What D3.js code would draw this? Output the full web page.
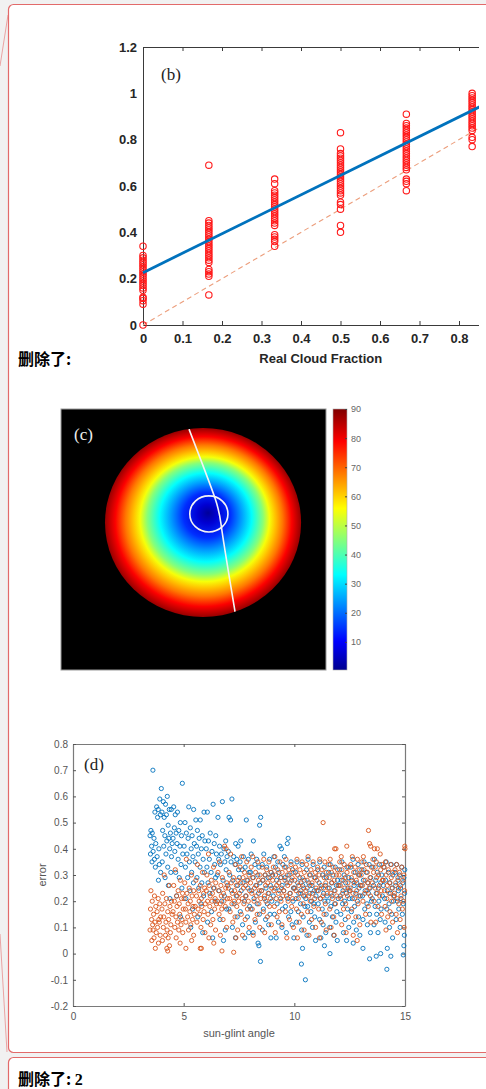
<!DOCTYPE html>
<html>
<head>
<meta charset="utf-8">
<script src="https://cdn.jsdelivr.net/npm/d3@7/dist/d3.min.js"></script>
<style>
  html, body { margin: 0; padding: 0; background: #f1f1f1; }
  svg { display: block; }
  .sans { font-family: "Liberation Sans", Arial, sans-serif; }
  .serif { font-family: "Liberation Serif", "Times New Roman", serif; }
  .cjk { font-family: "Noto Sans CJK SC", sans-serif; font-weight: bold; }
</style>
</head>
<body>
<div class="container"></div>
<script>
// ---------- panel (b): estimated vs real cloud fraction ----------
const cloudFraction = [0, 0.1667, 0.3333, 0.5, 0.6667, 0.8333];
const estCol0 = [0, .09, .105, .115, .12, .15, .16, .17, .18, .19, .20, .21, .22, .23, .24, .25, .26, .27, .28, .29, .30, .34];
const estCol1 = [.13, .21, .22, .23, .24, .27, .28, .29, .30, .31, .32, .33, .34, .35, .36, .37, .38, .39, .40, .41, .42, .43, .44, .45, .69];
const estCol2 = [.34, .36, .37, .38, .39, .43, .44, .45, .46, .47, .48, .49, .50, .51, .52, .53, .54, .55, .56, .57, .58, .61, .63];
const estCol3 = [.40, .43, .50, .52, .53, .56, .57, .58, .59, .60, .61, .62, .63, .64, .65, .66, .67, .68, .69, .70, .71, .72, .73, .74, .76, .83];
const estCol4 = [.58, .61, .62, .63, .67, .68, .69, .70, .71, .72, .73, .74, .75, .76, .77, .78, .79, .80, .81, .82, .83, .84, .85, .86, .87, .91];
const estCol5 = [.77, .80, .81, .84, .85, .86, .87, .88, .89, .90, .91, .92, .93, .94, .95, .96, .97, .98, .99, 1.0];
const estimated = [estCol0, estCol1, estCol2, estCol3, estCol4, estCol5];
const fitLine = [[0, 0.226], [0.9, 0.982]];
const oneToOne = [[0, 0], [0.9, 0.9]];
const xTicksB = [0, 0.1, 0.2, 0.3, 0.4, 0.5, 0.6, 0.7, 0.8];
const yTicksB = [0, 0.2, 0.4, 0.6, 0.8, 1, 1.2];

// ---------- panel (c): angle map (image units 0-100) ----------
const ringOffsets = [0, 0.1, 0.24, 0.36, 0.47, 0.53, 0.59, 0.66, 0.72, 0.8, 0.9, 1];
const ringValues  = [1, 6, 14, 24, 33, 39, 45, 55, 61, 68, 79, 88];
const jetStops  = [0, 0.11, 0.365, 0.62, 0.875, 1];
const jetColors = ["#00008f", "#0000ff", "#00ffff", "#ffff00", "#ff0000", "#800000"];
const cbTicks = [10, 20, 30, 40, 50, 60, 70, 80, 90];
const diskCenter = [53.6, 43.5];
const diskRadius = [37.0, 36.2];
const diskFocus  = [55.5, 39.8];
const ringCenter = [55.8, 40.2];
const ringRadius = [7.2, 6.9];
const trackLine = [[48.3, 7.7], [58.1, 34.1], [60.8, 47.1], [65.7, 77.8]];

// ---------- panel (d): error vs sun-glint angle ----------
const errBlue = [
[3.61,.70],[3.99,.63],[3.92,.59],[3.78,.56],[3.85,.55],[3.70,.54],[3.95,.53],[3.82,.52],[3.52,.47],[3.58,.46],[3.48,.45],[3.66,.44],[3.74,.42],[3.55,.41],[3.88,.40],[3.62,.39],[3.50,.38],[3.80,.37],[3.68,.36],[3.57,.35],[3.90,.34],[3.72,.33],[3.96,.31],[3.86,.28],
[4.26,.60],[4.08,.58],[4.18,.57],[4.35,.55],[4.02,.54],[4.22,.53],[4.44,.55],[4.12,.52],[4.30,.49],[4.05,.47],[4.40,.46],[4.15,.45],[4.33,.44],[4.24,.43],[4.48,.42],[4.10,.41],[4.37,.40],[4.20,.38],[4.45,.37],[4.03,.35],[4.28,.33],[4.42,.31],[4.16,.29],[4.31,.26],[4.38,.21],
[4.94,.65],[4.55,.56],[4.72,.54],[4.62,.53],[4.85,.50],[4.58,.48],[4.78,.47],[4.66,.46],[4.90,.45],[4.52,.44],[4.70,.42],[4.83,.41],[4.60,.39],[4.96,.38],[4.75,.36],[4.88,.34],[4.64,.31],[4.80,.29],[4.92,.25],[4.68,.22],[4.86,.14],
[5.23,.56],[5.45,.55],[5.06,.50],[5.30,.48],[5.12,.46],[5.38,.45],[5.20,.44],[5.48,.42],[5.02,.41],[5.34,.40],[5.15,.38],[5.42,.37],[5.26,.35],[5.08,.33],[5.36,.31],[5.18,.29],[5.44,.27],[5.28,.24],[5.10,.21],[5.40,.17],[5.32,.10],
[5.55,.51],[5.75,.51],[5.92,.54],[5.62,.47],[5.84,.45],[5.70,.44],[5.96,.43],[5.58,.41],[5.80,.40],[5.66,.38],[5.88,.36],[5.52,.35],[5.74,.33],[5.94,.31],[5.60,.29],[5.82,.27],[5.68,.25],[5.90,.22],[5.78,.19],[5.64,.14],[5.86,.08],
[6.33,.57],[6.07,.54],[6.20,.46],[6.45,.45],[6.12,.43],[6.38,.42],[6.02,.40],[6.28,.39],[6.48,.38],[6.16,.36],[6.40,.34],[6.05,.33],[6.24,.31],[6.44,.29],[6.10,.27],[6.35,.25],[6.18,.23],[6.42,.20],[6.26,.16],[6.08,.12],[6.31,.06],
[6.75,.58],[6.55,.52],[6.90,.43],[6.62,.41],[6.82,.40],[6.70,.38],[6.96,.37],[6.58,.36],[6.86,.35],[6.66,.34],[6.92,.32],[6.52,.30],[6.78,.28],[6.98,.26],[6.60,.24],[6.84,.22],[6.72,.20],[6.94,.17],[6.64,.13],[6.88,.09],[6.80,.05],
[7.18,.59],[7.05,.52],[7.12,.51],[7.35,.42],[7.46,.41],[7.02,.39],[7.26,.37],[7.40,.36],[7.14,.35],[7.32,.34],[7.48,.32],[7.08,.30],[7.22,.28],[7.44,.26],[7.16,.24],[7.38,.22],[7.28,.19],[7.04,.17],[7.42,.14],[7.20,.10],[7.34,.06],
[7.83,.51],[7.58,.43],[7.70,.37],[7.92,.36],[7.55,.35],[7.78,.33],[7.64,.32],[7.96,.31],[7.52,.29],[7.86,.28],[7.68,.27],[7.90,.25],[7.60,.24],[7.80,.22],[7.74,.20],[7.98,.18],[7.56,.16],[7.88,.14],[7.66,.11],[7.94,.08],[7.76,.06],
[8.48,.52],[8.43,.49],[8.15,.43],[8.05,.38],[8.30,.36],[8.22,.34],[8.40,.33],[8.02,.31],[8.35,.30],[8.12,.29],[8.45,.27],[8.26,.26],[8.08,.24],[8.38,.23],[8.18,.21],[8.32,.19],[8.04,.17],[8.42,.15],[8.24,.12],[8.14,.08],[8.40,.03],[8.47,-.03],[8.36,.04],
[8.62,.38],[8.88,.36],[8.55,.34],[8.75,.33],[8.95,.31],[8.68,.30],[8.82,.29],[8.58,.28],[8.92,.26],[8.72,.25],[8.52,.24],[8.85,.23],[8.65,.21],[8.98,.20],[8.78,.19],[8.60,.17],[8.90,.15],[8.70,.13],[8.84,.11],[8.56,.09],[8.94,.06],
[9.35,.41],[9.42,.40],[9.08,.37],[9.25,.35],[9.48,.34],[9.15,.33],[9.30,.31],[9.02,.30],[9.40,.29],[9.20,.28],[9.45,.26],[9.12,.25],[9.32,.24],[9.05,.22],[9.38,.21],[9.22,.19],[9.46,.17],[9.10,.15],[9.28,.12],[9.44,.10],[9.18,.06],
[9.72,.44],[9.68,.42],[9.55,.37],[9.85,.35],[9.62,.33],[9.92,.32],[9.76,.30],[9.58,.29],[9.88,.28],[9.66,.27],[9.96,.25],[9.52,.24],[9.80,.23],[9.70,.21],[9.94,.20],[9.60,.18],[9.84,.16],[9.74,.14],[9.90,.11],[9.64,.08],[9.98,.06],
[10.12,.35],[10.35,.34],[10.05,.31],[10.25,.29],[10.45,.28],[10.15,.27],[10.38,.26],[10.02,.25],[10.30,.24],[10.20,.23],[10.42,.22],[10.08,.21],[10.28,.19],[10.48,.18],[10.18,.16],[10.40,.14],[10.10,.12],[10.33,.09],[10.37,.02],[10.32,-.04],[10.50,-.10],
[10.62,.36],[10.85,.34],[10.55,.32],[10.72,.30],[10.95,.29],[10.65,.27],[10.80,.26],[10.58,.25],[10.90,.24],[10.70,.23],[10.98,.22],[10.52,.21],[10.78,.20],[10.88,.19],[10.60,.18],[10.75,.16],[10.92,.14],[10.68,.12],[10.82,.10],[10.57,.07],[10.96,.05],
[11.15,.35],[11.35,.33],[11.05,.32],[11.28,.30],[11.45,.29],[11.12,.27],[11.40,.26],[11.22,.25],[11.02,.24],[11.32,.23],[11.48,.22],[11.18,.21],[11.38,.20],[11.08,.19],[11.26,.17],[11.44,.15],[11.14,.13],[11.30,.11],[11.42,.08],[11.20,.06],[11.36,.03],
[11.62,.34],[11.85,.33],[11.55,.31],[11.75,.30],[11.95,.28],[11.68,.27],[11.90,.26],[11.58,.25],[11.80,.24],[11.70,.22],[11.98,.21],[11.52,.20],[11.82,.19],[11.65,.18],[11.92,.16],[11.72,.14],[11.88,.12],[11.60,.10],[11.78,.07],[11.61,.00],[11.94,.05],
[12.15,.35],[12.38,.33],[12.05,.32],[12.25,.30],[12.45,.29],[12.12,.28],[12.32,.27],[12.02,.26],[12.42,.25],[12.20,.24],[12.35,.23],[12.08,.22],[12.48,.21],[12.28,.20],[12.18,.19],[12.40,.17],[12.10,.15],[12.30,.13],[12.46,.10],[12.22,.08],[12.36,.05],
[12.65,.36],[12.88,.34],[12.55,.33],[12.75,.31],[12.95,.30],[12.60,.28],[12.82,.27],[12.70,.26],[12.92,.25],[12.52,.24],[12.78,.23],[12.98,.22],[12.62,.21],[12.85,.20],[12.72,.18],[12.58,.16],[12.90,.14],[12.68,.12],[12.80,.09],[12.96,.07],[12.66,.04],
[13.15,.35],[13.38,.34],[13.05,.32],[13.25,.31],[13.45,.29],[13.12,.28],[13.32,.27],[13.02,.26],[13.42,.25],[13.20,.24],[13.35,.23],[13.08,.22],[13.48,.20],[13.28,.19],[13.18,.17],[13.40,.15],[13.10,.13],[13.30,.11],[13.44,.08],[13.10,.02],[13.40,-.02],
[13.62,.36],[13.85,.34],[13.55,.33],[13.75,.31],[13.95,.30],[13.68,.28],[13.90,.27],[13.58,.26],[13.80,.25],[13.70,.23],[13.98,.22],[13.52,.21],[13.82,.20],[13.65,.18],[13.92,.17],[13.72,.15],[13.88,.13],[13.60,.11],[13.78,.08],[13.70,-.01],[13.90,.00],
[14.15,.35],[14.38,.34],[14.05,.33],[14.25,.31],[14.45,.30],[14.12,.28],[14.32,.27],[14.02,.26],[14.42,.25],[14.20,.24],[14.35,.23],[14.08,.21],[14.48,.20],[14.28,.19],[14.18,.17],[14.40,.15],[14.10,.12],[14.30,.10],[14.44,.06],[14.20,.02],[14.36,-.01],[14.18,-.06],
[14.62,.34],[14.85,.33],[14.99,.32],[14.55,.31],[14.75,.30],[14.95,.29],[14.68,.28],[14.90,.27],[14.58,.26],[14.80,.25],[14.70,.24],[14.98,.23],[14.52,.22],[14.82,.21],[14.65,.20],[14.92,.19],[14.72,.17],[14.88,.15],[14.60,.13],[14.78,.10],[14.97,.07],[14.95,.03],[14.92,-.005]
];
const errOrange = [
[3.52,.24],[3.68,.22],[3.85,.21],[3.58,.20],[3.92,.19],[3.74,.18],[3.50,.17],[3.80,.16],[3.64,.15],[3.96,.14],[3.55,.13],[3.88,.13],[3.70,.12],[3.60,.11],[3.82,.10],[3.48,.09],[3.76,.08],[3.94,.07],[3.66,.06],[3.56,.05],[3.86,.04],[3.72,.02],[3.90,.12],[3.62,.09],
[4.12,.30],[4.35,.26],[4.05,.23],[4.22,.21],[4.45,.20],[4.15,.19],[4.38,.18],[4.02,.17],[4.28,.16],[4.48,.15],[4.10,.14],[4.32,.13],[4.20,.12],[4.42,.11],[4.08,.10],[4.25,.09],[4.40,.08],[4.18,.07],[4.30,.06],[4.04,.05],[4.36,.03],[4.24,.02],[4.28,.01],
[4.62,.32],[4.85,.28],[4.55,.26],[4.75,.24],[4.95,.23],[4.68,.22],[4.90,.21],[4.58,.20],[4.80,.19],[4.70,.18],[4.98,.17],[4.52,.16],[4.82,.15],[4.65,.14],[4.92,.13],[4.72,.12],[4.88,.11],[4.60,.10],[4.78,.09],[4.96,.08],[4.66,.06],[4.84,.04],
[5.12,.36],[5.35,.30],[5.05,.27],[5.25,.25],[5.45,.24],[5.15,.23],[5.38,.22],[5.02,.21],[5.30,.20],[5.20,.19],[5.42,.18],[5.08,.17],[5.28,.16],[5.48,.15],[5.18,.14],[5.40,.13],[5.10,.12],[5.32,.11],[5.22,.09],[5.45,.07],[5.10,.02],[5.36,.05],
[5.62,.34],[5.85,.31],[5.55,.28],[5.75,.26],[5.95,.25],[5.68,.24],[5.90,.23],[5.58,.22],[5.80,.21],[5.70,.20],[5.98,.19],[5.52,.18],[5.82,.18],[5.65,.17],[5.92,.16],[5.72,.15],[5.88,.13],[5.60,.12],[5.78,.10],[5.96,.08],[5.75,.02],[5.80,.02],
[6.12,.38],[6.35,.33],[6.05,.30],[6.25,.28],[6.45,.27],[6.15,.26],[6.38,.25],[6.02,.24],[6.30,.23],[6.20,.22],[6.42,.21],[6.08,.20],[6.28,.20],[6.48,.19],[6.18,.18],[6.40,.17],[6.10,.15],[6.32,.13],[6.22,.11],[6.44,.09],[6.14,.06],[6.36,.04],
[6.85,.41],[6.92,.40],[6.62,.35],[6.55,.31],[6.75,.29],[6.95,.27],[6.68,.26],[6.90,.25],[6.58,.24],[6.80,.23],[6.70,.22],[6.98,.21],[6.52,.20],[6.82,.20],[6.65,.19],[6.88,.18],[6.72,.17],[6.60,.15],[6.78,.13],[6.94,.10],[6.73,.01],[6.66,.07],
[7.12,.38],[7.35,.34],[7.05,.31],[7.25,.29],[7.45,.28],[7.15,.27],[7.38,.26],[7.02,.25],[7.30,.24],[7.20,.23],[7.42,.22],[7.08,.21],[7.28,.20],[7.48,.20],[7.18,.19],[7.40,.18],[7.10,.16],[7.32,.14],[7.22,.12],[7.44,.09],[7.26,.005],[7.36,.06],
[7.62,.37],[7.85,.35],[7.55,.33],[7.75,.31],[7.95,.30],[7.68,.29],[7.90,.28],[7.58,.27],[7.80,.26],[7.70,.25],[7.98,.24],[7.52,.23],[7.82,.22],[7.65,.21],[7.92,.20],[7.72,.19],[7.88,.17],[7.60,.15],[7.78,.13],[7.96,.10],[7.66,.07],
[8.12,.37],[8.35,.35],[8.05,.33],[8.25,.31],[8.45,.30],[8.15,.29],[8.38,.28],[8.02,.27],[8.30,.26],[8.20,.25],[8.42,.24],[8.08,.23],[8.28,.22],[8.48,.21],[8.18,.20],[8.40,.19],[8.10,.17],[8.32,.15],[8.22,.13],[8.44,.10],[8.14,.07],
[8.62,.36],[8.85,.35],[8.55,.33],[8.75,.32],[8.95,.31],[8.68,.30],[8.90,.29],[8.58,.28],[8.80,.27],[8.70,.26],[8.98,.25],[8.52,.24],[8.82,.23],[8.65,.22],[8.92,.21],[8.72,.20],[8.88,.18],[8.60,.16],[8.78,.14],[8.96,.11],[8.66,.08],
[9.12,.37],[9.35,.35],[9.05,.33],[9.25,.32],[9.45,.31],[9.15,.30],[9.38,.29],[9.02,.28],[9.30,.27],[9.20,.26],[9.42,.25],[9.08,.24],[9.28,.23],[9.48,.22],[9.18,.21],[9.40,.20],[9.10,.18],[9.32,.16],[9.22,.14],[9.44,.11],[9.14,.08],
[9.62,.36],[9.85,.34],[9.55,.33],[9.75,.32],[9.95,.31],[9.68,.30],[9.90,.29],[9.58,.28],[9.80,.27],[9.70,.26],[9.98,.25],[9.52,.24],[9.82,.23],[9.65,.22],[9.92,.21],[9.72,.20],[9.88,.18],[9.60,.16],[9.78,.13],[9.96,.10],[9.66,.06],
[10.12,.36],[10.35,.35],[10.05,.33],[10.25,.32],[10.45,.31],[10.15,.30],[10.38,.29],[10.02,.28],[10.30,.27],[10.20,.26],[10.42,.25],[10.08,.24],[10.28,.23],[10.48,.22],[10.18,.21],[10.40,.19],[10.10,.17],[10.32,.15],[10.22,.12],[10.44,.09],[10.14,.06],
[10.62,.37],[10.85,.35],[10.55,.34],[10.75,.32],[10.95,.31],[10.68,.30],[10.90,.29],[10.58,.28],[10.80,.27],[10.70,.26],[10.98,.25],[10.52,.24],[10.82,.23],[10.65,.22],[10.92,.21],[10.72,.20],[10.88,.18],[10.60,.16],[10.78,.13],[10.96,.10],[10.66,.07],
[11.30,.50],[11.15,.36],[11.38,.35],[11.05,.33],[11.25,.32],[11.45,.31],[11.12,.30],[11.35,.29],[11.02,.28],[11.42,.27],[11.20,.26],[11.32,.25],[11.08,.24],[11.48,.23],[11.28,.22],[11.18,.21],[11.40,.19],[11.10,.17],[11.34,.15],[11.22,.12],[11.44,.09],[11.14,.06],
[11.82,.40],[11.88,.40],[11.62,.36],[11.55,.34],[11.75,.33],[11.95,.32],[11.68,.31],[11.90,.30],[11.58,.29],[11.80,.28],[11.70,.27],[11.98,.26],[11.52,.25],[11.84,.24],[11.65,.23],[11.92,.22],[11.72,.21],[11.86,.19],[11.60,.17],[11.78,.14],[11.80,.07],[11.66,.10],
[12.37,.41],[12.12,.37],[12.05,.35],[12.25,.34],[12.45,.33],[12.15,.32],[12.38,.31],[12.02,.30],[12.30,.29],[12.20,.28],[12.42,.27],[12.08,.26],[12.28,.25],[12.48,.24],[12.18,.23],[12.40,.22],[12.10,.21],[12.32,.19],[12.22,.17],[12.44,.14],[12.14,.11],[12.34,.08],
[12.62,.37],[12.85,.36],[12.55,.34],[12.75,.33],[12.95,.32],[12.68,.31],[12.90,.30],[12.58,.29],[12.80,.28],[12.70,.27],[12.98,.26],[12.52,.25],[12.82,.24],[12.65,.23],[12.92,.22],[12.72,.21],[12.88,.19],[12.60,.17],[12.78,.14],[12.96,.11],[12.66,.07],[12.84,.05],
[13.35,.47],[13.40,.42],[13.45,.41],[13.12,.37],[13.05,.35],[13.25,.34],[13.48,.33],[13.15,.32],[13.30,.31],[13.02,.30],[13.42,.29],[13.20,.28],[13.32,.27],[13.08,.26],[13.38,.25],[13.28,.24],[13.18,.23],[13.44,.22],[13.10,.20],[13.34,.18],[13.22,.15],[13.46,.12],
[13.62,.40],[13.75,.40],[13.88,.38],[13.55,.36],[13.70,.35],[13.95,.34],[13.66,.33],[13.90,.32],[13.58,.31],[13.80,.30],[13.72,.29],[13.98,.28],[13.52,.27],[13.84,.26],[13.65,.25],[13.92,.24],[13.74,.23],[13.86,.22],[13.60,.20],[13.78,.18],[13.94,.15],[13.68,.12],
[14.12,.35],[14.35,.34],[14.05,.33],[14.25,.32],[14.45,.31],[14.15,.30],[14.38,.29],[14.02,.28],[14.30,.27],[14.20,.26],[14.42,.25],[14.08,.24],[14.28,.23],[14.48,.22],[14.18,.21],[14.40,.20],[14.10,.18],[14.32,.16],[14.22,.14],[14.44,.12],[14.14,.09],
[14.99,.41],[15.00,.40],[14.62,.34],[14.85,.33],[14.55,.32],[14.75,.31],[14.95,.30],[14.68,.29],[14.90,.28],[14.58,.27],[14.80,.26],[14.70,.25],[14.98,.24],[14.52,.23],[14.82,.22],[14.65,.21],[14.92,.20],[14.72,.19],[14.88,.17],[14.60,.15],[14.78,.13],[14.96,.10],[14.66,.08]
];
const xTicksD = [0, 5, 10, 15];
const yTicksD = [-0.2, -0.1, 0, 0.1, 0.2, 0.3, 0.4, 0.5, 0.6, 0.7, 0.8];

// ---------------------------------------------------------------
const W = 486, H = 1089;
const svg = d3.select(".container")
              .append("svg")
                .attr("width", W)
                .attr("height", H);
const defs = svg.append("defs");

// comment balloons (page chrome)
svg.append("path")
   .attr("d", "M8,15 L0,66 M0,934 L7,1052")
   .attr("stroke", "#eaa3a3").attr("fill", "none").attr("stroke-width", 1);
svg.append("rect")
   .attr("x", 8.5).attr("y", 4.5).attr("width", 500).attr("height", 1048)
   .attr("rx", 5).attr("fill", "#fff").attr("stroke", "#e26a6a").attr("stroke-width", 1.2);
svg.append("rect")
   .attr("x", 8.5).attr("y", 1057.5).attr("width", 500).attr("height", 60)
   .attr("rx", 5).attr("fill", "#fff").attr("stroke", "#e26a6a").attr("stroke-width", 1.2);

svg.append("text").attr("class", "cjk")
   .attr("x", 18).attr("y", 365).attr("font-size", 16).text("删除了:");
const del2 = svg.append("text").attr("class", "cjk")
   .attr("x", 18).attr("y", 1085).attr("font-size", 16);
del2.append("tspan").text("删除了: ");
del2.append("tspan").attr("font-family", "Liberation Serif, serif").attr("font-weight", "bold").text("2");

// ===================== panel (b) =====================
const mb = {left: 143, top: 47};
const wb = 355.5, hb = 278;
// the source picture is cropped at x = 479
defs.append("clipPath").attr("id", "clipB")
    .append("rect").attr("x", -mb.left).attr("y", -mb.top).attr("width", 479).attr("height", 400);
const gb = svg.append("g")
              .attr("transform", "translate(" + mb.left + "," + mb.top + ")")
              .attr("clip-path", "url(#clipB)");

const xB = d3.scaleLinear().domain([0, 0.9]).range([0, wb]);
const yB = d3.scaleLinear().domain([0, 1.2]).range([hb, 0]);
const fmt = d => d3.format("~g")(d).replace("\u2212", "-");

gb.append("g").attr("transform", "translate(0," + hb + ")")
  .call(d3.axisBottom(xB).tickValues(xTicksB).tickSizeInner(-4).tickSizeOuter(0).tickPadding(9).tickFormat(fmt));
gb.append("g")
  .call(d3.axisTop(xB).tickValues(xTicksB).tickSizeInner(-4).tickSizeOuter(0).tickFormat(""));
gb.append("g")
  .call(d3.axisLeft(yB).tickValues(yTicksB).tickSizeInner(0).tickSizeOuter(0).tickPadding(6).tickFormat(fmt));
gb.selectAll(".domain, .tick line").attr("stroke", "#3a3a3a");
gb.selectAll(".tick text").attr("font-family", "Liberation Sans, Arial, sans-serif")
  .attr("font-weight", "bold").attr("font-size", 13).attr("fill", "#262626");

gb.append("text").attr("class", "sans")
  .attr("x", xB(0.45)).attr("y", hb + 38)
  .attr("text-anchor", "middle").attr("font-weight", "bold").attr("font-size", 13).attr("fill", "#262626")
  .text("Real Cloud Fraction");
gb.append("text").attr("class", "serif")
  .attr("x", 18).attr("y", 33).attr("font-size", 17).attr("fill", "#222").text("(b)");

const line = d3.line().x(d => xB(d[0])).y(d => yB(d[1]));
gb.append("path").datum(oneToOne).attr("d", line)
  .attr("fill", "none").attr("stroke", "#ec9e7c").attr("stroke-width", 1.1).attr("stroke-dasharray", "5,3.5");

const cfPoints = cloudFraction.flatMap((cf, i) => estimated[i].map(v => ({x: cf, y: v})));
gb.selectAll(".cf")
  .data(cfPoints)
  .enter()
  .append("circle")
    .classed("cf", true)
    .attr("cx", d => xB(d.x))
    .attr("cy", d => yB(d.y))
    .attr("r", 3.2)
    .attr("fill", "none")
    .attr("stroke", "#ff1a1a")
    .attr("stroke-width", 1.1);

gb.append("path").datum(fitLine).attr("d", line)
  .attr("fill", "none").attr("stroke", "#0072BD").attr("stroke-width", 2.8);

// ===================== panel (c) =====================
const xC = d3.scaleLinear().domain([0, 100]).range([61, 326]);
const yC = d3.scaleLinear().domain([0, 100]).range([409, 670]);
const jet = d3.scaleLinear().domain(jetStops.map(t => t * 90)).range(jetColors).clamp(true);

const gc = svg.append("g");
gc.append("rect")
  .attr("x", xC(0)).attr("y", yC(0)).attr("width", xC(100) - xC(0)).attr("height", yC(100) - yC(0))
  .attr("fill", "#000").attr("stroke", "#9a9a9a").attr("stroke-width", 1);

const rg = defs.append("radialGradient").attr("id", "diskGrad")
  .attr("cx", 0.5).attr("cy", 0.5).attr("r", 0.5)
  .attr("fx", 0.5 + (diskFocus[0] - diskCenter[0]) / (2 * diskRadius[0]))
  .attr("fy", 0.5 + (diskFocus[1] - diskCenter[1]) / (2 * diskRadius[1]));
rg.selectAll("stop")
  .data(ringOffsets)
  .enter().append("stop")
    .attr("offset", d => d)
    .attr("stop-color", (d, i) => jet(ringValues[i]));

defs.append("clipPath").attr("id", "clipDisk")
  .append("ellipse")
    .attr("cx", xC(diskCenter[0])).attr("cy", yC(diskCenter[1]))
    .attr("rx", xC(diskRadius[0]) - xC(0)).attr("ry", yC(diskRadius[1]) - yC(0));

gc.append("ellipse")
  .attr("cx", xC(diskCenter[0])).attr("cy", yC(diskCenter[1]))
  .attr("rx", xC(diskRadius[0]) - xC(0)).attr("ry", yC(diskRadius[1]) - yC(0))
  .attr("fill", "url(#diskGrad)");

gc.append("path").datum(trackLine)
  .attr("clip-path", "url(#clipDisk)")
  .attr("d", d3.line().x(d => xC(d[0])).y(d => yC(d[1])).curve(d3.curveNatural))
  .attr("fill", "none").attr("stroke", "#f4f4f4").attr("stroke-width", 1.6);

gc.append("ellipse")
  .attr("cx", xC(ringCenter[0])).attr("cy", yC(ringCenter[1]))
  .attr("rx", xC(ringRadius[0]) - xC(0)).attr("ry", yC(ringRadius[1]) - yC(0))
  .attr("fill", "none").attr("stroke", "#f4f4f4").attr("stroke-width", 1.6);

gc.append("text").attr("class", "serif")
  .attr("x", 74).attr("y", 440).attr("font-size", 17).attr("fill", "#eee").text("(c)");

// colour bar
const cb = d3.scaleLinear().domain([0, 90]).range([671, 409]);
const lg = defs.append("linearGradient").attr("id", "jetGrad")
  .attr("x1", 0).attr("y1", 1).attr("x2", 0).attr("y2", 0);
lg.selectAll("stop")
  .data(jetStops)
  .enter().append("stop")
    .attr("offset", d => d)
    .attr("stop-color", (d, i) => jetColors[i]);
gc.append("rect")
  .attr("x", 333).attr("y", cb(90)).attr("width", 14).attr("height", 670 - cb(90))
  .attr("fill", "url(#jetGrad)").attr("stroke", "#aaa").attr("stroke-width", 0.6);
const gcb = gc.append("g").attr("transform", "translate(347,0)")
  .call(d3.axisRight(cb).tickValues(cbTicks).tickSizeInner(-2).tickSizeOuter(0).tickPadding(4));
gcb.select(".domain").remove();
gcb.selectAll(".tick line").attr("stroke", "#444");
gcb.selectAll(".tick text").attr("font-family", "Liberation Sans, Arial, sans-serif")
   .attr("font-size", 9).attr("fill", "#666");

// ===================== panel (d) =====================
const md = {left: 73, top: 744};
const wd = 332, hd = 262;
const gd = svg.append("g").attr("transform", "translate(" + md.left + "," + md.top + ")");
const xD = d3.scaleLinear().domain([0, 15]).range([0, wd]);
const yD = d3.scaleLinear().domain([-0.2, 0.8]).range([hd, 0]);

gd.append("g").attr("transform", "translate(0," + hd + ")")
  .call(d3.axisBottom(xD).tickValues(xTicksD).tickSizeInner(-3).tickSizeOuter(0).tickPadding(7).tickFormat(fmt));
gd.append("g")
  .call(d3.axisTop(xD).tickValues(xTicksD).tickSizeInner(-3).tickSizeOuter(0).tickFormat(""));
gd.append("g")
  .call(d3.axisLeft(yD).tickValues(yTicksD).tickSizeInner(-3).tickSizeOuter(0).tickPadding(5).tickFormat(fmt));
gd.append("g").attr("transform", "translate(" + wd + ",0)")
  .call(d3.axisRight(yD).tickValues(yTicksD).tickSizeInner(-3).tickSizeOuter(0).tickFormat(""));
gd.selectAll(".domain").attr("stroke", "#7a7a7a").attr("stroke-width", 1.2);
gd.selectAll(".tick line").attr("stroke", "#555");
gd.selectAll(".tick text").attr("font-family", "Liberation Sans, Arial, sans-serif")
  .attr("font-size", 10).attr("fill", "#555");

gd.append("text").attr("class", "sans")
  .attr("x", xD(7.5)).attr("y", hd + 31)
  .attr("text-anchor", "middle").attr("font-size", 11).attr("fill", "#555").text("sun-glint angle");
gd.append("text").attr("class", "sans")
  .attr("transform", "translate(-27," + yD(0.3) + ") rotate(-90)")
  .attr("text-anchor", "middle").attr("font-size", 11).attr("fill", "#555").text("error");
gd.append("text").attr("class", "serif")
  .attr("x", 11).attr("y", 26).attr("font-size", 17).attr("fill", "#222").text("(d)");

gd.selectAll(".blue")
  .data(errBlue)
  .enter()
  .append("circle")
    .classed("blue", true)
    .attr("cx", d => xD(d[0]))
    .attr("cy", d => yD(d[1]))
    .attr("r", 2.1)
    .attr("fill", "none")
    .attr("stroke", "#0072BD")
    .attr("stroke-width", 0.9);

gd.selectAll(".orange")
  .data(errOrange)
  .enter()
  .append("circle")
    .classed("orange", true)
    .attr("cx", d => xD(d[0]))
    .attr("cy", d => yD(d[1]))
    .attr("r", 2.1)
    .attr("fill", "none")
    .attr("stroke", "#D95319")
    .attr("stroke-width", 0.9);
</script>
</body>
</html>
